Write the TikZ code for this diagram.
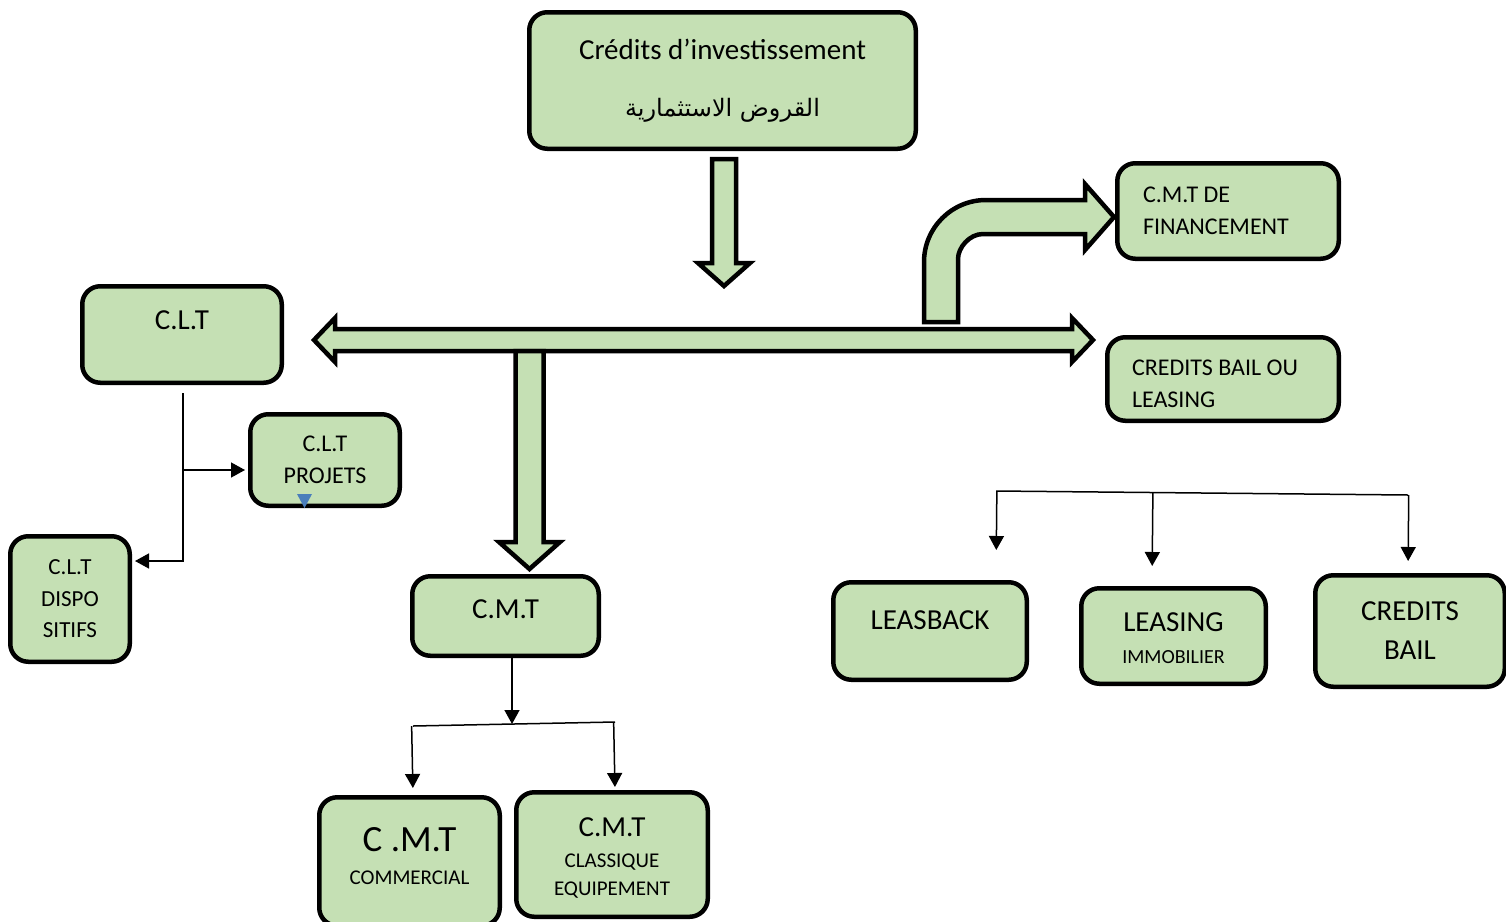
\documentclass[tikz,border=0pt]{standalone}
\usepackage{fontspec}
\setmainfont{Carlito}
\newfontfamily\arabicfont[Script=Arabic]{DejaVu Sans}
\TeXXeTstate=1
\usetikzlibrary{arrows.meta,calc}
\definecolor{boxgreen}{HTML}{C5E0B4}
\definecolor{markblue}{HTML}{4A7EBB}
\newcommand\fs[2]{\fontsize{#1}{#2}\selectfont}
\tikzset{
  box/.style={draw, line width=4.5pt, rounded corners=18pt, fill=boxgreen, inner sep=0pt, align=center},
  fat/.style={draw, line width=4.5pt, fill=boxgreen, line join=miter},
  link/.style={line width=1.5pt, -{Triangle[length=14pt,width=15pt]}},
}
\begin{document}
\begin{tikzpicture}[x=1pt,y=-1pt]
  \useasboundingbox (0,0) rectangle (1506,921);
  % boxes
  \node[box, minimum width=386.5pt, minimum height=136.5pt, font=\fs{29}{57}] (top) at (722.5,80.5)
    {Crédits d’investissement\\{\arabicfont\fs{24}{24}\beginR القروض الاستثمارية\endR}};
  \node[box, minimum width=221.5pt, minimum height=95.5pt, font=\fs{24}{32}, align=flush left, text width=170pt] (fin) at (1228,211)
    {C.M.T DE\\FINANCEMENT};
  \node[box, minimum width=231.5pt, minimum height=83.5pt, font=\fs{24}{32}, align=flush left, text width=182pt, text height=25.5pt] (bail) at (1223,379)
    {CREDITS BAIL OU\\LEASING};
  \node[box, minimum width=199.5pt, minimum height=96.5pt, font=\fs{29}{29}, text depth=28pt] (clt) at (182,334.5) {C.L.T};
  \node[box, minimum width=149.5pt, minimum height=91.5pt, font=\fs{24}{32}] (projets) at (325,460) {C.L.T\\PROJETS};
  \node[box, minimum width=119.5pt, minimum height=125.5pt, font=\fs{23}{31.5}] (dispo) at (70,599) {C.L.T\\DISPO\\SITIFS};
  \node[box, minimum width=186.5pt, minimum height=79.5pt, font=\fs{29}{29}, text depth=14pt] (cmt) at (505.5,616) {C.M.T};
  \node[box, minimum width=180.5pt, minimum height=128.5pt, font=\fs{21}{33}, text depth=12pt] (commercial) at (409.5,861.5)
    {{\fs{37}{37}C .M.T}\\COMMERCIAL};
  \node[box, minimum width=191.5pt, minimum height=124.5pt, font=\fs{21}{28}, text height=85.7pt] (classique) at (612,854.5)
    {{\fs{29}{29}C.M.T}\\[3pt]CLASSIQUE\\EQUIPEMENT};
  \node[box, minimum width=193.5pt, minimum height=97.5pt, font=\fs{29}{29}, text depth=22pt] (leasback) at (930,631) {LEASBACK};
  \node[box, minimum width=184.5pt, minimum height=95.5pt, font=\fs{29}{32}, text height=54.7pt] (leasing) at (1173.5,636)
    {LEASING\\{\fs{20}{20}IMMOBILIER}};
  \node[box, minimum width=189.5pt, minimum height=111.5pt, font=\fs{29}{39}] (creditsbail) at (1410,631) {CREDITS\\BAIL};
  \fill[markblue] (297,494) -- (312,494) -- (304.5,508) -- cycle;

  % block arrows
  \draw[fat] (712,159) -- (736,159) -- (736,263) -- (750,263) -- (724,286) -- (698,263) -- (712,263) -- cycle;
  \draw[fat] (314,340) -- (335,318) -- (335,329) -- (1072,329) -- (1072,318) -- (1093,340)
    -- (1072,362) -- (1072,351) -- (335,351) -- (335,362) -- cycle;
  \draw[fat] (515.5,351) -- (543.5,351) -- (543.5,542) -- (560,542) -- (529.5,569) -- (499,542) -- (515.5,542) -- cycle;
  \draw[fat] (924,322) -- (924,262) .. controls (924,227.8) and (951.8,200) .. (986,200) -- (1085,200) -- (1085,184)
    -- (1114,217) -- (1085,250) -- (1085,234) -- (983,234) .. controls (969.2,234) and (958,247.8) .. (958,259)
    -- (958,322) -- cycle;

  % thin connectors
  \coordinate (cltfoot) at (183,393);
  \coordinate (dispoin) at ([yshift=38pt]dispo.east);
  \coordinate (projin) at ([yshift=-10pt]projets.west);
  \draw[link, shorten >=3pt] (cltfoot) |- (dispoin);
  \draw[link, shorten >=3pt] (cltfoot |- projin) -- (projin);

  \coordinate (cmtbar) at (512,724);
  \coordinate (cmtbarL) at (413,726);
  \coordinate (cmtbarR) at (615,722);
  \draw[link] (cmt.south -| cmtbar) -- (cmtbar);
  \draw[line width=1.5pt] (cmtbarL) -- (cmtbarR);
  \foreach \n/\dx/\gap in {commercial/3.5/7, classique/3/3} {
    \coordinate (\n-in) at ([xshift=\dx pt]\n.north);
    \draw[link, shorten >=\gap pt] ($(cmtbarL)!(\n-in)!(cmtbarR)$) -- (\n-in);
  }

  \coordinate (leasbarL) at (996,491);
  \coordinate (leasbarR) at (1408,495);
  \draw[line width=1.5pt] (leasbarL) -- (leasbarR);
  \foreach \n/\dx/\gap in {leasback/66/30, leasing/-21.5/20, creditsbail/-2/12} {
    \coordinate (\n-in) at ([xshift=\dx pt]\n.north);
    \draw[link, shorten >=\gap pt] ($(leasbarL)!(\n-in)!(leasbarR)$) -- (\n-in);
  }
\end{tikzpicture}
\end{document}
